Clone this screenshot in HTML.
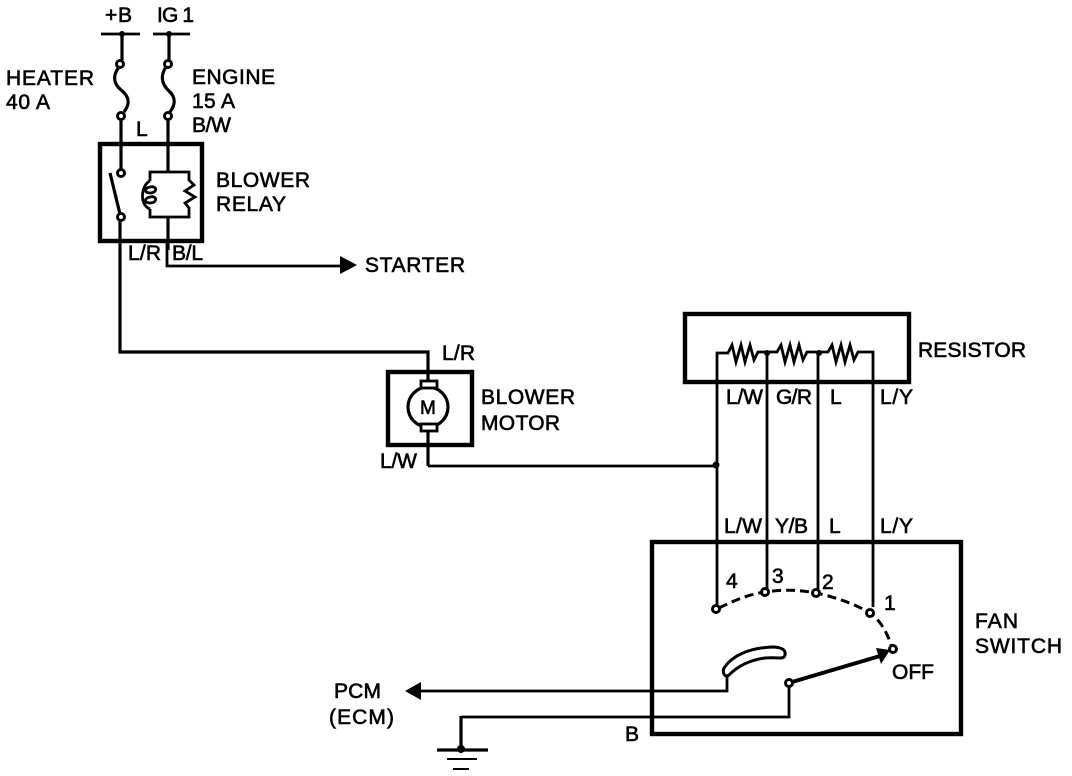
<!DOCTYPE html>
<html><head><meta charset="utf-8"><style>
html,body{margin:0;padding:0;background:#fff}
svg{display:block}
text{font-family:"Liberation Sans",sans-serif;font-size:21px;fill:#000;stroke:#000;stroke-width:.6}
.w{fill:none;stroke:#000;stroke-width:3.2;stroke-linejoin:miter}
.t{fill:none;stroke:#000;stroke-width:2.8}
.b{fill:none;stroke:#000;stroke-width:4.4}
.c{fill:#fff;stroke:#000;stroke-width:3}
</style></head><body>
<svg width="1072" height="776" viewBox="0 0 1072 776" xmlns="http://www.w3.org/2000/svg">
<rect width="1072" height="776" fill="#fff"/>
<!-- boxes -->
<rect class="b" x="100" y="144" width="102" height="97"/>
<rect class="b" x="388" y="372" width="84" height="73"/>
<rect class="b" x="685" y="314" width="224" height="68"/>
<rect class="b" x="652" y="542" width="309" height="192"/>
<!-- supply bars -->
<path class="t" d="M101 34H140M153 34H190"/>
<circle cx="122" cy="34" r="3"/><circle cx="169" cy="34" r="3"/>
<!-- heater fuse -->
<path class="w" d="M122 34V60M119 67C112 76 114 84 121 90C130 97 130 104 124 112M121 120V169"/>
<circle class="c" cx="120" cy="64" r="3.5"/><circle class="c" cx="121" cy="116" r="3.5"/>
<!-- engine fuse -->
<path class="w" d="M169 34V60M166 67C160 76 162 84 168 90C176 97 176 104 170 112M168 120V172"/>
<circle class="c" cx="168" cy="64" r="3.5"/><circle class="c" cx="168" cy="116" r="3.5"/>
<!-- relay contact -->
<path class="w" d="M110 173L120 214M120 221V352H428V381"/>
<circle class="c" cx="121" cy="173" r="3.5"/><circle class="c" cx="121" cy="217" r="3.5"/>
<!-- coil -->
<path class="t" d="M150 181V172H189V180L194 185L185 191L195 197L185 203L189 208V217H150V209"/>
<path class="t" d="M150 181C141 185 139 205 150 209"/>
<path class="t" d="M150 187C157 185 158 193 150 193C144 193 144 188 150 187ZM150 197C157 195 158 203 150 203C144 203 144 198 150 197Z"/>
<!-- relay output -->
<path class="w" d="M168 217V250"/>
<path class="t" d="M167 241V266H342"/>
<polygon points="340,256 357,265 340,274"/>
<!-- motor -->
<circle class="w" cx="428" cy="407" r="20"/>
<rect x="421" y="381" width="16" height="7" fill="#fff" stroke="#000" stroke-width="2.8"/>
<rect x="421" y="424" width="16" height="7" fill="#fff" stroke="#000" stroke-width="2.8"/>
<text x="420" y="414" textLength="17" style="font-size:19px">M</text>
<path class="w" d="M428 431V466"/>
<path class="t" d="M428 466H716"/>
<circle cx="716" cy="465" r="3.5"/>
<!-- resistor -->
<path class="t" d="M717 606V353H728L732 345L736 362L741 345L745 362L750 345L754 360L758 352H767H777L781 345L785 362L790 345L794 362L799 345L803 360L807 352H819H828L832 345L836 362L841 345L845 362L850 345L854 360L858 352H873V607"/>
<path class="t" d="M767 353V589M818 353V590"/>
<circle cx="767" cy="353" r="3"/><circle cx="819" cy="353" r="3"/>
<!-- switch -->
<path d="M719 608C735 600 750 594 765 592C785 589 800 590 816 593C835 597 855 604 870 613C880 620 887 632 891 645" fill="none" stroke="#000" stroke-width="3" stroke-dasharray="9 5"/>
<circle class="c" cx="716" cy="609" r="3.5"/>
<circle class="c" cx="765" cy="592" r="3.5"/>
<circle class="c" cx="816" cy="593" r="3.5"/>
<circle class="c" cx="870" cy="613" r="3.5"/>
<circle class="c" cx="893" cy="649" r="3.5"/>
<path d="M792 682L880 656" fill="none" stroke="#000" stroke-width="4"/>
<polygon points="890,650 876,648 881,664"/>
<circle class="c" cx="789" cy="683" r="3.5"/>
<path d="M724 668C732 656 748 648 772 647C782 647 786 650 785 655C784 660 778 657 765 658C750 660 738 666 729 675C725 678 722 673 724 668Z" fill="#fff" stroke="#000" stroke-width="3"/>
<path class="t" d="M727 676V691H418"/>
<polygon points="405,691 421,682 421,700"/>
<path class="t" d="M789 687V717H461"/>
<path class="w" d="M461 716V750"/>
<path class="w" d="M437 750H488"/>
<circle cx="461" cy="749" r="4"/>
<path d="M447 759H477" stroke="#000" stroke-width="2"/>
<path d="M453 769H469" stroke="#000" stroke-width="2"/>
<!-- labels -->
<text x="105" y="22" textLength="27">+B</text>
<text x="157" y="22" textLength="37">IG 1</text>
<text x="6" y="85" textLength="88">HEATER</text>
<text x="6" y="109" textLength="44">40 A</text>
<text x="192" y="84" textLength="83">ENGINE</text>
<text x="192" y="108" textLength="43">15 A</text>
<text x="192" y="132" textLength="39">B/W</text>
<text x="136" y="136" textLength="10">L</text>
<text x="216" y="187" textLength="94">BLOWER</text>
<text x="216" y="211" textLength="70">RELAY</text>
<text x="128" y="260" textLength="33">L/R</text>
<text x="172" y="260" textLength="31">B/L</text>
<text x="365" y="272" textLength="100">STARTER</text>
<text x="442" y="360" textLength="33">L/R</text>
<text x="481" y="404" textLength="94">BLOWER</text>
<text x="481" y="430" textLength="79">MOTOR</text>
<text x="380" y="468" textLength="37">L/W</text>
<text x="918" y="357" textLength="108">RESISTOR</text>
<text x="726" y="404" textLength="37">L/W</text>
<text x="776" y="404" textLength="36">G/R</text>
<text x="830" y="404" textLength="10">L</text>
<text x="880" y="404" textLength="33">L/Y</text>
<text x="724" y="533" textLength="38">L/W</text>
<text x="775" y="533" textLength="33">Y/B</text>
<text x="829" y="533" textLength="10">L</text>
<text x="880" y="533" textLength="33">L/Y</text>
<text x="726" y="588">4</text>
<text x="772" y="583">3</text>
<text x="822" y="589">2</text>
<text x="884" y="610">1</text>
<text x="892" y="679" textLength="42">OFF</text>
<text x="975" y="628" textLength="43">FAN</text>
<text x="975" y="653" textLength="87">SWITCH</text>
<text x="334" y="698" textLength="47">PCM</text>
<text x="329" y="724" textLength="65">(ECM)</text>
<text x="625" y="741" textLength="13">B</text>
</svg>
</body></html>
